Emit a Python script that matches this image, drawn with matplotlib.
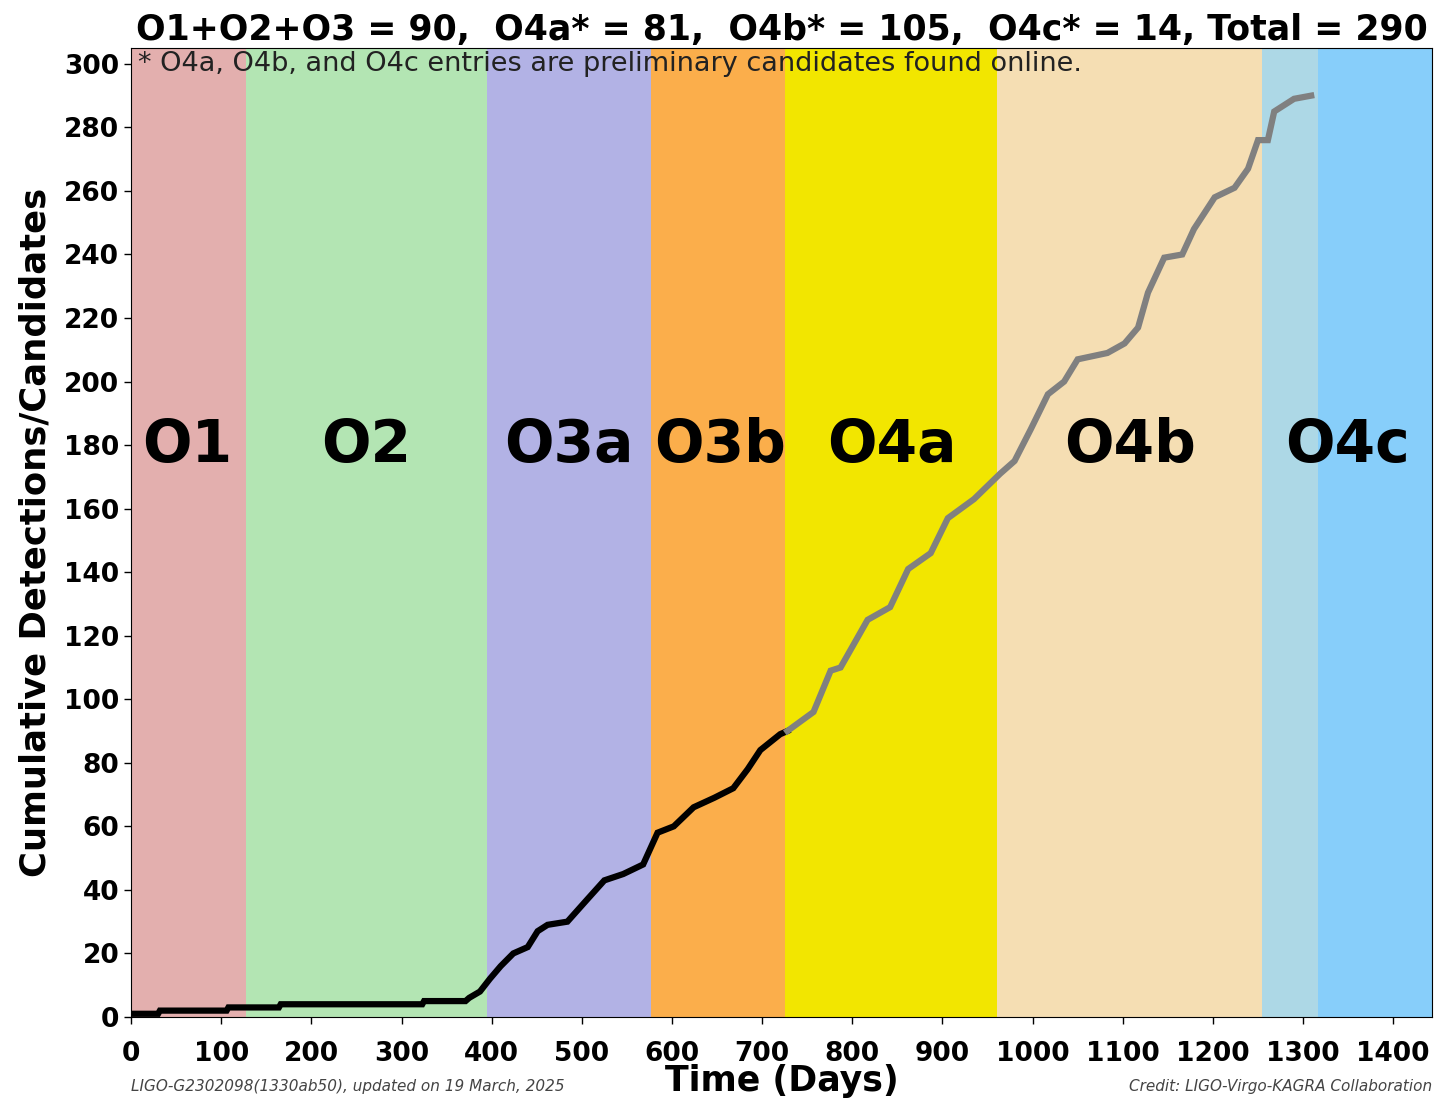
import matplotlib
matplotlib.use('Agg')
import matplotlib.pyplot as plt

# observing runs: name, start day, end day, colour
run_names = ['O1', 'O2', 'O3a', 'O3b', 'O4a', 'O4b', '', 'O4c']
run_starts = [0, 127, 395, 577, 725, 961, 1255, 1317]
run_ends = [127, 395, 577, 725, 961, 1255, 1317, 1443]
run_colors = ['#E3AFAE', '#B3E5B3', '#B2B2E5', '#FBAE4B', '#F2E600',
              '#F5DEB3', '#ADD8E6', '#87CEFA']
label_days = [62, 261, 486, 653, 844, 1108, 0, 1349]

# cumulative detections O1-O3 (confirmed)
black_days = [0, 30, 32, 106, 108, 164, 166, 323, 325, 371, 375, 387, 398, 410,
              424, 440, 451, 462, 484, 506, 525, 546, 568, 584, 602, 624, 647,
              668, 684, 698, 720, 728]
black_counts = [1, 1, 2, 2, 3, 3, 4, 4, 5, 5, 6, 8, 12, 16, 20, 22, 27, 29, 30,
                37, 43, 45, 48, 58, 60, 66, 69, 72, 78, 84, 89, 90]

# cumulative candidates O4 (preliminary)
grey_days = [728, 757, 776, 787, 817, 842, 862, 887, 906, 935, 964, 980, 998,
             1017, 1035, 1050, 1083, 1102, 1117, 1128, 1146, 1166, 1179, 1202,
             1224, 1239, 1250, 1261, 1268, 1290, 1309]
grey_counts = [90, 96, 109, 110, 125, 129, 141, 146, 157, 163, 171, 175, 185,
               196, 200, 207, 209, 212, 217, 228, 239, 240, 248, 258, 261, 267,
               276, 276, 285, 289, 290]


def draw():
    fig = plt.figure(figsize=(14.37, 10.98), dpi=100)
    ax = fig.add_axes([0.0912, 0.0738, 0.9053, 0.8825])

    for name, s, e, c, d in zip(run_names, run_starts, run_ends, run_colors, label_days):
        ax.axvspan(s, e, color=c, lw=0)
        if name:
            ax.text(d, 180, name, ha='center', va='center', fontsize=42,
                    fontweight='bold', color='black')

    ax.plot(black_days, black_counts, color='black', lw=4.5, solid_joinstyle='miter')
    ax.plot(grey_days, grey_counts, color='#808080', lw=4.5, solid_joinstyle='miter')

    ax.set_xlim(0, 1443)
    ax.set_ylim(0, 305)
    ax.set_xticks(range(0, 1401, 100))
    ax.set_yticks(range(0, 301, 20))
    for lab in ax.get_xticklabels() + ax.get_yticklabels():
        lab.set_fontweight('bold')
        lab.set_fontsize(19)
    ax.tick_params(length=5, width=1)
    ax.tick_params(axis='x', pad=12)

    ax.set_xlabel('Time (Days)', fontsize=25, fontweight='bold', labelpad=-2)
    ax.set_ylabel('Cumulative Detections/Candidates', fontsize=25.5, fontweight='bold',
                  labelpad=8)
    ax.set_title('O1+O2+O3 = 90,  O4a* = 81,  O4b* = 105,  O4c* = 14, Total = 290',
                 fontsize=25, fontweight='bold', pad=6)
    ax.text(8, 300, '* O4a, O4b, and O4c entries are preliminary candidates found online.',
            fontsize=19.5, va='center', ha='left', color='#222222')

    fig.text(0.0912, 0.004, 'LIGO-G2302098(1330ab50), updated on 19 March, 2025',
             fontsize=11, style='italic', color='#444444', ha='left', va='bottom')
    fig.text(0.9965, 0.004, 'Credit: LIGO-Virgo-KAGRA Collaboration',
             fontsize=11, style='italic', color='#444444', ha='right', va='bottom')

    fig.savefig('out.png', dpi=100)


if __name__ == '__main__':
    draw()
